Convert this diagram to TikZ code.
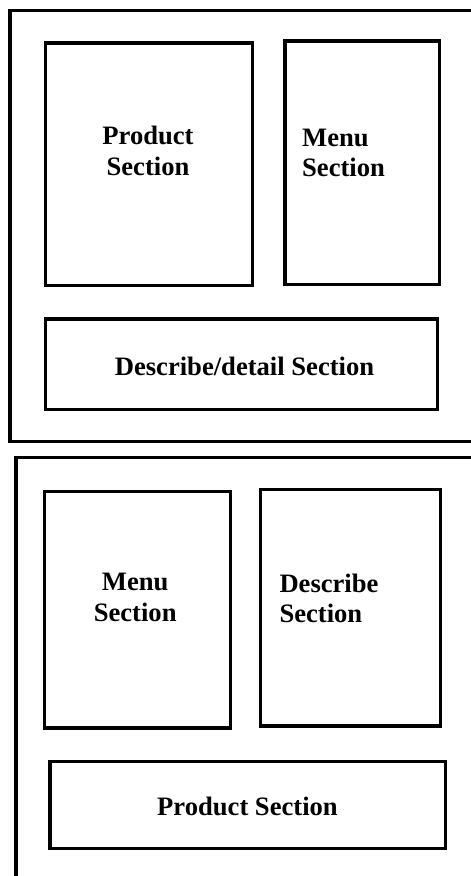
\documentclass[tikz,border=0pt]{standalone}
\usepackage{fontspec}
\setmainfont{Liberation Serif}
\begin{document}
\begin{tikzpicture}[x=1pt,y=-1pt,
  frame/.style={draw=black,line width=3.5pt,rectangle,inner sep=0pt,outer sep=0pt},
  box/.style={draw=black,line width=3.5pt,rectangle,inner sep=0pt,outer sep=0pt},
  lbl/.style={inner sep=0pt,font=\fontsize{26.6}{30}\selectfont\bfseries}]
\useasboundingbox (0,0) rectangle (471,876);
\clip (0,0) rectangle (471,876);
% top layout
\node[frame,minimum width=470pt,minimum height=430.6pt] (f1) at (245,225.95) {};
\node[box,minimum width=207pt,minimum height=242.7pt] (p1) at (149.2,164.3) {};
\node[box,minimum width=154.3pt,minimum height=243.3pt] (m1) at (362.2,162.7) {};
\node[box,minimum width=391.7pt,minimum height=90.7pt] (d1) at (241.5,364.3) {};
\node[lbl,anchor=base] (p1a) at (148,144) {Product};
\node[lbl,anchor=base] (p1b) at (148,175) {Section};
\node[lbl,anchor=base west] (m1a) at (302,146) {Menu};
\node[lbl,anchor=base west] (m1b) at (302,176) {Section};
\node[lbl,anchor=base] (d1a) at (244.5,375) {Describe/detail Section};
% bottom layout
\node[frame,minimum width=464pt,minimum height=432.7pt] (f2) at (248,673.65) {};
\node[box,minimum width=186pt,minimum height=236.7pt] (m2) at (137.7,609.7) {};
\node[box,minimum width=180pt,minimum height=236.3pt] (d2) at (350.7,607.8) {};
\node[box,minimum width=395.3pt,minimum height=87.3pt] (p2) at (247.7,805) {};
\node[lbl,anchor=base] (m2a) at (135.2,590) {Menu};
\node[lbl,anchor=base] (m2b) at (135.2,621) {Section};
\node[lbl,anchor=base west] (d2a) at (279.3,592.7) {Describe};
\node[lbl,anchor=base west] (d2b) at (279.3,622.7) {Section};
\node[lbl,anchor=base] (p2a) at (247.5,815) {Product Section};
\end{tikzpicture}
\end{document}
